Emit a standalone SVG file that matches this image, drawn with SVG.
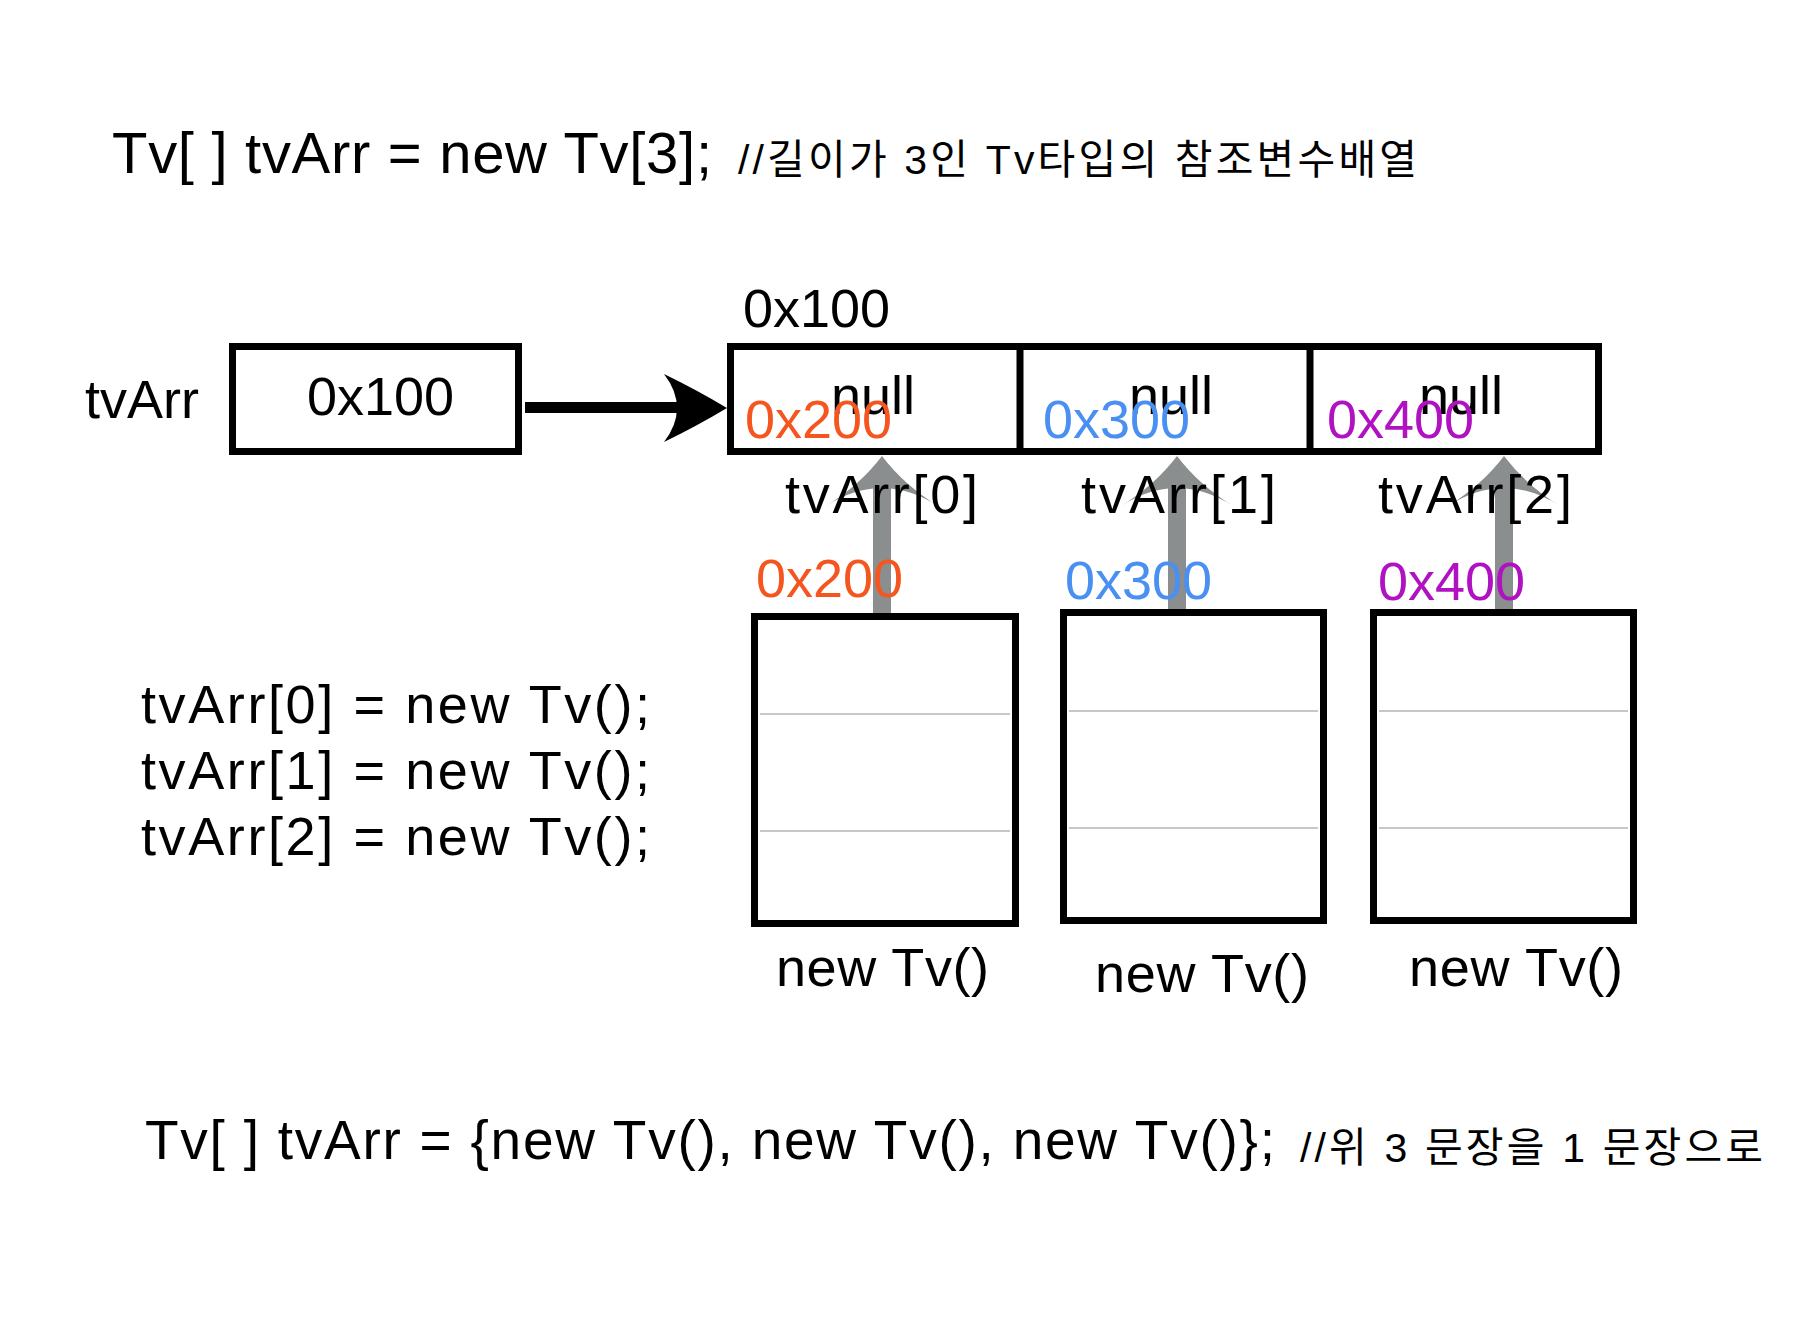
<svg xmlns="http://www.w3.org/2000/svg" width="1809" height="1333" viewBox="0 0 1809 1333">
<style>
.t{font-family:"Liberation Sans",Arial,sans-serif;font-size:54px;fill:#000}
.k{font-family:"Liberation Sans","Noto Sans CJK KR",sans-serif;font-size:41px;fill:#000}
.box{fill:#fff;stroke:#000;stroke-width:7}
.sep{stroke:#b4b4b4;stroke-width:1.5}
.g{fill:#8b8e8e}
.o{fill:#f5561f}
.b{fill:#4a8ff2}
.p{fill:#b012c2}
</style>
<rect width="1809" height="1333" fill="#fff"/>

<g id="title">
<text class="t" x="112" y="173" style="font-size:58px" textLength="600" lengthAdjust="spacing">Tv[ ] tvArr = new Tv[3];</text>
<text class="k" x="738" y="174" textLength="679" lengthAdjust="spacing">//길이가 3인 Tv타입의 참조변수배열</text>
</g>

<g id="tvArr-var">
<text class="t" x="85" y="418">tvArr</text>
<rect class="box" x="232.5" y="346.5" width="286" height="105"/>
<text class="t" x="307" y="415">0x100</text>
</g>

<g id="array">
<text class="t" x="743" y="327">0x100</text>
<rect class="box" x="730.5" y="346.5" width="868" height="105"/>
<line x1="1020" y1="346" x2="1020" y2="452" stroke="#000" stroke-width="7"/>
<line x1="1310" y1="346" x2="1310" y2="452" stroke="#000" stroke-width="7"/>
</g>

<g id="connectors">
<rect x="525" y="402" width="160" height="11" fill="#000"/>
<path d="M727 408 Q697 390 664 374 Q690 408 664 442 Q697 426 727 408 Z" fill="#000"/>
<g class="g">
<rect x="873" y="485" width="18" height="129"/>
<path d="M882 456 Q860 485 826 506 Q882 470 938 506 Q904 485 882 456 Z"/>
<rect x="1168" y="485" width="18" height="125"/>
<path d="M1177 456 Q1155 485 1121 506 Q1177 470 1233 506 Q1199 485 1177 456 Z"/>
<rect x="1495" y="485" width="18" height="125"/>
<path d="M1504 456 Q1482 485 1448 506 Q1504 470 1560 506 Q1526 485 1504 456 Z"/>
</g>
</g>

<g id="cell0">
<text class="t" x="831" y="414">null</text>
<text class="t o" x="745" y="438">0x200</text>
<text class="t" x="785" y="513" textLength="193" lengthAdjust="spacing">tvArr[0]</text>
<text class="t o" x="756" y="597">0x200</text>
</g>
<g id="cell1">
<text class="t" x="1129" y="414">null</text>
<text class="t b" x="1043" y="438">0x300</text>
<text class="t" x="1081" y="513" textLength="195" lengthAdjust="spacing">tvArr[1]</text>
<text class="t b" x="1065" y="599">0x300</text>
</g>
<g id="cell2">
<text class="t" x="1419" y="414">null</text>
<text class="t p" x="1327" y="438">0x400</text>
<text class="t" x="1378" y="513" textLength="194" lengthAdjust="spacing">tvArr[2]</text>
<text class="t p" x="1378" y="600">0x400</text>
</g>

<g id="tv0">
<rect class="box" x="754.5" y="616.5" width="261" height="307"/>
<line class="sep" x1="760" y1="714" x2="1010" y2="714"/>
<line class="sep" x1="760" y1="831" x2="1010" y2="831"/>
<text class="t" x="776" y="986" textLength="213" lengthAdjust="spacing">new Tv()</text>
</g>
<g id="tv1">
<rect class="box" x="1063.5" y="612.5" width="260" height="308"/>
<line class="sep" x1="1069" y1="711" x2="1318" y2="711"/>
<line class="sep" x1="1069" y1="828" x2="1318" y2="828"/>
<text class="t" x="1095" y="992" textLength="214" lengthAdjust="spacing">new Tv()</text>
</g>
<g id="tv2">
<rect class="box" x="1373.5" y="612.5" width="260" height="308"/>
<line class="sep" x1="1379" y1="711" x2="1628" y2="711"/>
<line class="sep" x1="1379" y1="828" x2="1628" y2="828"/>
<text class="t" x="1409" y="986" textLength="214" lengthAdjust="spacing">new Tv()</text>
</g>

<g id="code">
<text class="t" x="141" y="723" textLength="509" lengthAdjust="spacing">tvArr[0] = new Tv();</text>
<text class="t" x="141" y="789" textLength="509" lengthAdjust="spacing">tvArr[1] = new Tv();</text>
<text class="t" x="141" y="855" textLength="509" lengthAdjust="spacing">tvArr[2] = new Tv();</text>
</g>

<g id="bottom">
<text class="t" x="145" y="1159" style="font-size:55px" textLength="1130" lengthAdjust="spacing">Tv[ ] tvArr = {new Tv(), new Tv(), new Tv()};</text>
<text class="k" x="1300" y="1162" textLength="463" lengthAdjust="spacing">//위 3 문장을 1 문장으로</text>
</g>
</svg>
